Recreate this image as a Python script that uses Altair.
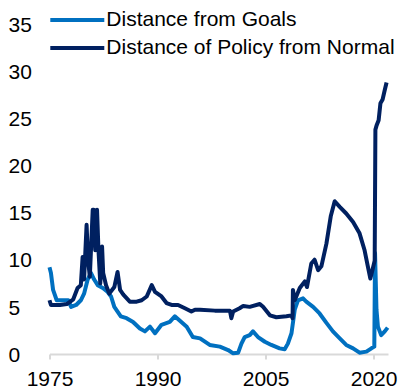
import altair as alt
import pandas as pd

series_names = ["Distance from Goals", "Distance of Policy from Normal"]
series_colors = ["#0070C0", "#002060"]

goals_years = [1975.0, 1975.2, 1975.5, 1976.0, 1976.9, 1977.6, 1978.0, 1978.7, 1979.35, 1979.8,
               1980.3, 1980.75, 1981.2, 1981.7, 1982.4, 1983.05, 1983.55, 1984.0, 1984.45, 1984.9,
               1985.7, 1986.6, 1987.55, 1988.25, 1988.95, 1989.65, 1990.55, 1991.7, 1992.4, 1994.05,
               1994.9, 1995.9, 1997.25, 1998.65, 1999.8, 2000.5, 2001.2, 2001.65, 2002.1, 2002.8,
               2003.25, 2003.95, 2004.9, 2005.8, 2006.95, 2007.65, 2008.1, 2008.6, 2009.05, 2009.5,
               2010.2, 2010.65, 2011.6, 2012.5, 2013.45, 2014.35, 2015.3, 2016.2, 2017.15, 2018.05,
               2019.0, 2019.7, 2020.1, 2020.2, 2020.4, 2020.6, 2021.05, 2021.55, 2021.95]
goals_values = [9.2, 8.6, 6.8, 5.7, 5.7, 5.7, 5.0, 5.2, 5.7, 6.4,
                7.9, 8.6, 7.9, 7.3, 7.0, 6.6, 6.1, 5.0, 4.5, 4.0,
                3.8, 3.4, 2.7, 2.4, 2.9, 2.2, 3.1, 3.4, 4.0, 2.9,
                1.8, 1.66, 0.96, 0.78, 0.42, 0.07, 0.14, 1.1, 1.8, 2.0,
                2.4, 1.8, 1.3, 0.96, 0.6, 0.5, 1.1, 2.2, 4.7, 5.7,
                5.9, 5.55, 5.0, 4.3, 3.3, 2.4, 1.66, 0.96, 0.6, 0.14,
                0.25, 0.6, 0.78, 10.7, 4.7, 2.9, 2.0, 2.4, 2.8]

policy_years = [1975.0, 1975.2, 1976.45, 1977.4, 1978.3, 1978.9, 1979.35, 1979.6, 1979.8, 1980.15,
                1980.35, 1980.6, 1981.0, 1981.15, 1981.35, 1981.6, 1981.8, 1982.05, 1982.3, 1982.45,
                1982.85, 1983.3, 1984.0, 1984.45, 1984.8, 1985.25, 1986.15, 1987.1, 1987.8, 1988.5,
                1989.2, 1989.65, 1990.55, 1991.25, 1991.95, 1992.85, 1993.8, 1994.7, 1995.2, 1995.9,
                1997.95, 2000.05, 2000.25, 2000.5, 2001.4, 2001.9, 2002.8, 2004.2, 2004.65, 2005.6,
                2006.5, 2007.9, 2008.6, 2008.75, 2008.8, 2009.05, 2009.75, 2010.45, 2010.75, 2011.35,
                2011.8, 2012.3, 2012.75, 2013.45, 2014.05, 2014.6, 2015.3, 2016.2, 2017.15, 2018.05,
                2018.75, 2019.2, 2019.55, 2019.9, 2020.15, 2020.25, 2020.4, 2020.7, 2020.95, 2021.25,
                2021.55, 2021.8]
policy_values = [5.7, 5.2, 5.2, 5.3, 5.8, 7.0, 7.3, 10.3, 7.9, 13.7,
                 10.0, 8.2, 15.3, 15.3, 11.0, 15.3, 11.0, 7.5, 11.4, 8.6,
                 7.3, 6.4, 7.1, 8.7, 6.8, 6.3, 5.55, 5.55, 5.7, 6.1,
                 7.3, 6.6, 6.1, 5.4, 5.2, 5.2, 4.85, 4.5, 4.7, 4.7,
                 4.6, 4.6, 3.8, 4.5, 4.85, 5.1, 5.0, 5.3, 5.0, 4.1,
                 3.9, 4.0, 4.1, 3.8, 6.8, 5.7, 7.0, 7.7, 7.1, 9.6,
                 10.0, 8.9, 9.3, 11.7, 14.6, 16.2, 15.6, 14.9, 14.0, 12.8,
                 11.0, 9.3, 8.0, 9.1, 9.9, 23.8, 24.2, 24.8, 26.6, 27.0,
                 28.0, 28.8]

x_ticks = [1975, 1990, 2005, 2020]
y_ticks = [0, 5, 10, 15, 20, 25, 30, 35]

df = pd.concat([
    pd.DataFrame({"year": goals_years, "value": goals_values, "series": series_names[0]}),
    pd.DataFrame({"year": policy_years, "value": policy_values, "series": series_names[1]}),
], ignore_index=True)

FONT = "Liberation Sans"

x_enc = alt.X(
    "year:Q",
    scale=alt.Scale(domain=[1975, 2022], nice=False, zero=False),
    axis=alt.Axis(values=x_ticks, format="d", title=None, grid=False, labelFlush=False,
                  domainColor="#d9d9d9", domainWidth=2, tickColor="#d9d9d9",
                  tickWidth=2, tickSize=5, labelFontSize=21, labelPadding=9,
                  labelColor="black", labelFont=FONT),
)
y_enc = alt.Y(
    "value:Q",
    scale=alt.Scale(domain=[0, 35], nice=False),
    axis=alt.Axis(values=y_ticks, title=None, grid=False, domain=False, ticks=False,
                  tickSize=0, labelAlign="left", labelPadding=41.5, labelBaseline="middle",
                  labelOffset=1.2, labelFontSize=21, labelColor="black", labelFont=FONT),
)
color_enc = alt.Color(
    "series:N",
    scale=alt.Scale(domain=series_names, range=series_colors),
    legend=alt.Legend(title=None, orient="none", legendX=-1.2, legendY=-17, padding=0,
                      symbolType="stroke", symbolSize=2916, symbolStrokeWidth=4,
                      clipHeight=26, rowPadding=2, labelFontSize=21, labelFont=FONT,
                      labelColor="black", labelOffset=0, labelLimit=500),
)

base = alt.Chart(df).mark_line(strokeWidth=4, strokeJoin="round").encode(
    x=x_enc, y=y_enc, color=color_enc
)

layer_goals = base.transform_filter(alt.datum.series == series_names[0])
layer_policy = base.transform_filter(alt.datum.series == series_names[1])

chart = alt.layer(layer_goals, layer_policy).properties(
    width=338.5, height=330,
    autosize=alt.AutoSizeParams(type="none"),
    padding={"left": 49.5, "top": 24, "right": 13, "bottom": 37},
).configure_view(stroke=None)

chart.save("out.html", embed_options={"renderer": "svg", "actions": False})
